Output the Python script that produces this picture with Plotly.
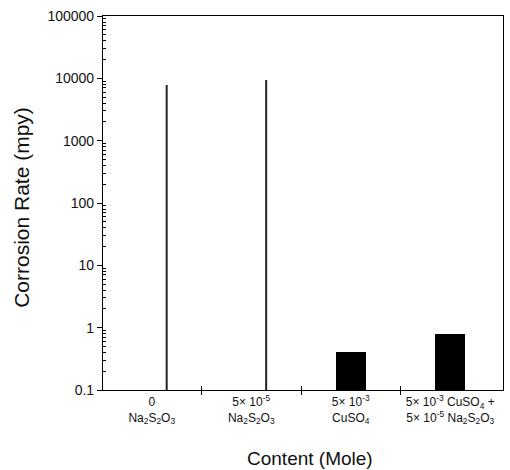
import plotly.graph_objects as go

# ---- data ----
categories = [
    "0<br>Na<sub>2</sub>S<sub>2</sub>O<sub>3</sub>",
    "5× 10<sup>-5</sup><br>Na<sub>2</sub>S<sub>2</sub>O<sub>3</sub>",
    "5× 10<sup>-3</sup><br>CuSO<sub>4</sub>",
    "5× 10<sup>-3</sup> CuSO<sub>4</sub> +<br>5× 10<sup>-5</sup> Na<sub>2</sub>S<sub>2</sub>O<sub>3</sub>",
]
corrosion_rate = [7800, 9400, 0.40, 0.80]
fill_colors = ["white", "white", "black", "black"]
y_tickvals = [0.1, 1, 10, 100, 1000, 10000, 100000]
y_ticktext = ["0.1", "1", "10", "100", "1000", "10000", "100000"]
minor_multipliers = [2, 3, 4, 5, 6, 7, 8, 9]

positions = list(range(len(categories)))
bar_width = 0.30
boundaries = [p + 0.5 for p in positions[:-1]]
x_range = [-0.49, 3.53]
y_minor = [m * d for d in y_tickvals[:-1] for m in minor_multipliers]

FONT = "Liberation Sans, Arial, sans-serif"

fig = go.Figure()
fig.add_trace(go.Bar(
    x=positions, y=corrosion_rate, width=bar_width,
    marker=dict(color=fill_colors, line=dict(width=0)),
    showlegend=False,
))
# faded scan: only the right edge of the open bars remains visible
for p, v, c in zip(positions, corrosion_rate, fill_colors):
    if c == "white":
        fig.add_trace(go.Scatter(
            x=[p + bar_width / 2, p + bar_width / 2], y=[0.1, v],
            mode="lines", line=dict(color="#222", width=2),
            showlegend=False, hoverinfo="skip",
        ))

fig.update_layout(
    width=510, height=470,
    margin=dict(l=103, r=7, t=16, b=80),
    paper_bgcolor="white", plot_bgcolor="white",
    font=dict(family=FONT, color="#111"),
    bargap=0,
    xaxis=dict(
        range=x_range, tickmode="array", tickvals=boundaries,
        showticklabels=False, ticks="outside", ticklen=4, tickcolor="black",
        showline=True, linecolor="black", linewidth=1.2, mirror=True,
        showgrid=False, zeroline=False,
    ),
    xaxis2=dict(
        overlaying="x", matches="x", side="bottom",
        tickmode="array", tickvals=boundaries, showticklabels=False,
        ticks="inside", ticklen=4, tickcolor="black",
        showline=False, showgrid=False, zeroline=False,
    ),
    xaxis3=dict(
        overlaying="x", matches="x", side="bottom",
        tickmode="array", tickvals=positions, ticktext=categories,
        ticks="", tickfont=dict(size=12, color="#111"), ticklabelstandoff=3,
        showline=False, showgrid=False, zeroline=False,
    ),
    yaxis=dict(
        type="log", range=[-1, 5], tickmode="array",
        tickvals=y_tickvals, ticktext=y_ticktext,
        ticks="outside", ticklen=5, tickcolor="black",
        tickfont=dict(size=14, color="#111"),
        showline=True, linecolor="black", linewidth=1.2, mirror=True,
        showgrid=False, zeroline=False,
    ),
    yaxis2=dict(
        type="log", overlaying="y", matches="y", side="left",
        tickmode="array", tickvals=y_minor, showticklabels=False,
        ticks="inside", ticklen=3, tickcolor="black",
        showline=False, showgrid=False, zeroline=False,
    ),
    annotations=[
        dict(text="Content (Mole)", xref="paper", yref="paper",
             x=0.5175, y=-0.182, xanchor="center", yanchor="middle",
             showarrow=False, font=dict(size=19, color="#111")),
        dict(text="Corrosion Rate (mpy)", xref="paper", yref="paper",
             x=-0.2025, y=0.487, xanchor="center", yanchor="middle",
             textangle=-90, showarrow=False, font=dict(size=21, color="#111")),
    ],
)
# invisible helper traces to activate the overlay axes
fig.add_trace(go.Scatter(x=[positions[0]], y=[0.1], xaxis="x2", mode="markers",
                         marker=dict(opacity=0), showlegend=False, hoverinfo="skip"))
fig.add_trace(go.Scatter(x=[positions[0]], y=[0.1], xaxis="x3", mode="markers",
                         marker=dict(opacity=0), showlegend=False, hoverinfo="skip"))
fig.add_trace(go.Scatter(x=[positions[0]], y=[0.1], yaxis="y2", mode="markers",
                         marker=dict(opacity=0), showlegend=False, hoverinfo="skip"))

fig.write_html("out.html")
